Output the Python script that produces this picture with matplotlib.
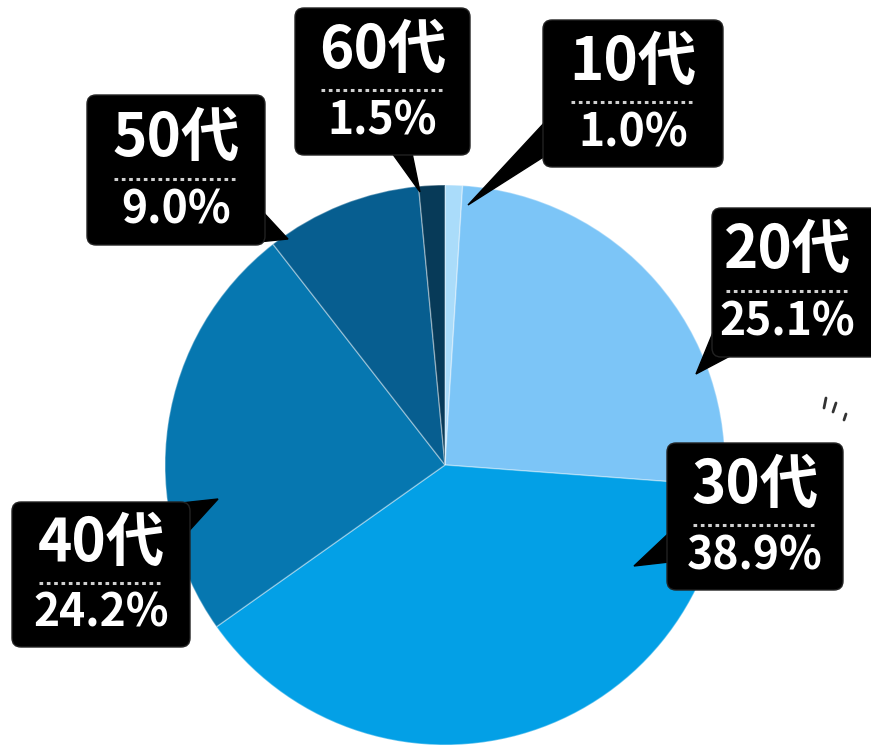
import numpy as np
import matplotlib
matplotlib.use("Agg")
import matplotlib.pyplot as plt
from matplotlib.patches import FancyBboxPatch, Polygon

plt.rcParams['font.family'] = ['Noto Sans CJK JP', 'DejaVu Sans']

# data
ages = ["10代", "20代", "30代", "40代", "50代", "60代"]
shares = [1.0, 25.1, 38.9, 24.2, 9.0, 1.5]
colors = ["#aadcfa", "#7cc5f7", "#03a0e6", "#0677b0", "#075e90", "#073a58"]

W, H = 871, 747

# label boxes in pixel coords from top-left: (x0, y0, x1, y1), pointer base/tip
boxes = {
    "10代": ((543, 20, 723, 167), [(545, 122), (545, 156), (468, 205)]),
    "20代": ((712, 208, 880, 357), [(714, 330), (732, 355), (696, 374)]),
    "30代": ((667, 443, 843, 590), [(669, 533), (669, 562), (634, 566)]),
    "40代": ((12, 502, 190, 647), [(172, 504), (188, 532), (218, 499)]),
    "50代": ((87, 95, 265, 245), [(248, 243), (263, 212), (288, 239)]),
    "60代": ((295, 8, 470, 155), [(392, 153), (412, 153), (420, 192)]),
}


def fy(y):
    return H - y


fig = plt.figure(figsize=(W / 100, H / 100), dpi=100)
ax = fig.add_axes([0, 0, 1, 1])

ax.pie(shares, colors=colors, startangle=90, counterclock=False,
       center=(445, fy(465)), radius=280,
       wedgeprops=dict(edgecolor=(1, 1, 1, 0.35), linewidth=1.0))

for age, pct in zip(ages, shares):
    (x0, y0, x1, y1), tri = boxes[age]
    ax.add_patch(Polygon([(x, fy(y)) for x, y in tri], closed=True,
                         facecolor="black", edgecolor="black", lw=1, zorder=5))
    ax.add_patch(FancyBboxPatch((x0, fy(y1)), x1 - x0, y1 - y0,
                                boxstyle="round,pad=0,rounding_size=9",
                                facecolor="black", edgecolor="#222222",
                                lw=1, zorder=6))
    right = min(x1, W - 8)
    cx = (x0 + right) / 2
    h = y1 - y0
    ax.text(cx, fy(y0 + h * 0.29), age, color="white", fontsize=42,
            fontweight="bold", ha="center", va="center", zorder=7)
    ax.plot([cx - 62, cx + 62], [fy(y0 + h * 0.56)] * 2, color="#d0d0d0",
            lw=2.2, ls=(0, (1.2, 1.2)), zorder=7)
    ax.text(cx, fy(y0 + h * 0.77), f"{pct:.1f}%", color="white", fontsize=32,
            fontweight="bold", ha="center", va="center", zorder=7)

# small decoration strokes to the right of the pie
for (xa, ya, xb, yb) in [(826, 398, 824, 408), (836, 403, 833, 412), (846, 414, 844, 420)]:
    ax.plot([xa, xb], [fy(ya), fy(yb)], color="#333333", lw=2, solid_capstyle="round")

ax.set_xlim(0, W)
ax.set_ylim(0, H)
ax.set_aspect("auto")
ax.axis("off")

fig.savefig("out.png", dpi=100)
